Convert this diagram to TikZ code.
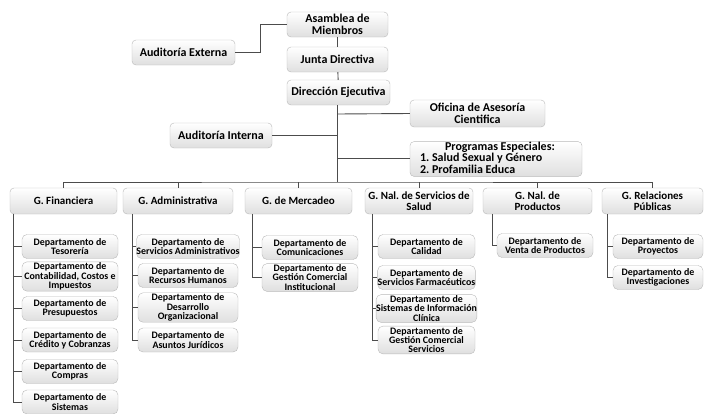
\documentclass[tikz,border=0pt]{standalone}
\usepackage{fontspec}
\setmainfont{Carlito}
\begin{document}
\frenchspacing
\begin{tikzpicture}[x=1pt,y=-1pt,
  box/.style={draw=gray!55, rounded corners=4pt, top color=white, bottom color=gray!25,
    align=center, inner sep=1pt, font=\fontsize{11}{11}\selectfont\bfseries},
  topbox/.style={box, font=\fontsize{12}{11.5}\selectfont\bfseries},
  dept/.style={box, rounded corners=5pt, inner xsep=0pt, font=\fontsize{9.9}{9.4}\selectfont\bfseries},
  conn/.style={draw=black!70, line width=0.9pt}]
\useasboundingbox (0,0) rectangle (704,413);
% top level
\node[topbox, minimum width=101pt, minimum height=25pt] (asam) at (337.5,24.5) {Asamblea de\\Miembros};
\node[topbox, minimum width=101pt, minimum height=25pt] (junta) at (337.5,59.5) {Junta Directiva};
\node[topbox, minimum width=103pt, minimum height=25pt] (dir) at (338.5,92.5) {Dirección Ejecutiva};
\node[topbox, minimum width=103pt, minimum height=25pt] (audext) at (183.5,52.5) {Auditoría Externa};
\node[topbox, minimum width=102pt, minimum height=25pt] (audint) at (221,135.5) {Auditoría Interna};
\node[topbox, minimum width=135pt, minimum height=27pt] (ofic) at (477.5,113.5) {Oficina de Asesoría\\Cientifica};
\node[topbox, minimum height=34pt, inner xsep=10pt, inner ysep=0pt] (prog) at (496,159)
  {\makebox[152pt][l]{\def\arraystretch{0.92}\begin{tabular}{@{}l@{}}\hspace*{25pt}Programas Especiales:\\1. Salud Sexual y Género\\2. Profamilia Educa\end{tabular}}};
\coordinate (bus) at (337,182);
\coordinate (tofic) at (337,114);
\coordinate (taud) at (337,135.5);
\coordinate (tprog) at (337,158);
\draw[conn] (audext.east) -- ++(25,0) |- (asam.west);
\draw[conn] (asam) -- (junta);
\draw[conn] (junta) -- (dir);
\draw[conn] (dir.south -| bus) -- (bus);
\draw[conn] (tofic) -- (ofic.west);
\draw[conn] (audint.east) -- (taud);
\draw[conn] (tprog) -- (tprog -| prog.west);
% managements
\node[box, minimum width=107pt, minimum height=26pt] (gfin) at (63.5,201) {G. Financiera};
\node[box, minimum width=110pt, minimum height=26pt] (gadm) at (178,201) {G. Administrativa};
\node[box, minimum width=107pt, minimum height=26pt] (gmer) at (298.5,201) {G. de Mercadeo};
\node[box, minimum width=108pt, minimum height=26pt] (gsal) at (419,201) {G. Nal. de Servicios de\\Salud};
\node[box, minimum width=109pt, minimum height=26pt] (gpro) at (537.5,201) {G. Nal. de\\Productos};
\node[box, minimum width=101pt, minimum height=26pt] (grel) at (652.5,201) {G. Relaciones\\Públicas};
\draw[conn] (gfin.north) |- (bus) -| (grel.north);
\foreach \n in {gadm,gmer,gsal,gpro} \draw[conn] (\n.north) -- (\n.north |- bus);
% departments: Financiera
\begin{scope}[every node/.style={dept, minimum width=96pt, minimum height=24pt}]
\node (f1) at (70,246.5) {Departamento de\\Tesorería};
\node (f2) at (70,276.5) {Departamento de\\Contabilidad, Costos e\\Impuestos};
\node (f3) at (70,308.5) {Departamento de\\Presupuestos};
\node (f4) at (70,340) {Departamento de\\Crédito y Cobranzas};
\node (f5) at (70,371.5) {Departamento de\\Compras};
\node (f6) at (70,402) {Departamento de\\Sistemas};
\end{scope}
\coordinate (lf) at (13,0);
\draw[conn] (gfin.south -| lf) |- (f6.west);
\foreach \n in {f1,f2,f3,f4,f5} \draw[conn] (\n.west -| lf) -- (\n.west);
% Administrativa
\begin{scope}[every node/.style={dept, minimum width=100pt, minimum height=24pt}]
\node (a1) at (188,246.5) {Departamento de\\Servicios Administrativos};
\node (a2) at (188,275.5) {Departamento de\\Recursos Humanos};
\node (a3) at (188,307.5) {Departamento de\\Desarrollo\\Organizacional};
\node (a4) at (188,340) {Departamento de\\Asuntos Jurídicos};
\end{scope}
\coordinate (la) at (132,0);
\draw[conn] (gadm.south -| la) |- (a4.west);
\foreach \n in {a1,a2,a3} \draw[conn] (\n.west -| la) -- (\n.west);
% Mercadeo
\begin{scope}[every node/.style={dept, minimum width=96pt, minimum height=24pt}]
\node (m1) at (310,247.5) {Departamento de\\Comunicaciones};
\node (m2) at (310,277.5) {Departamento de\\Gestión Comercial\\Institucional};
\end{scope}
\coordinate (lm) at (252,0);
\draw[conn] (gmer.south -| lm) |- (m2.west);
\draw[conn] (m1.west -| lm) -- (m1.west);
% Salud
\begin{scope}[every node/.style={dept, minimum width=97pt, minimum height=24pt}]
\node (s1) at (426.5,246.5) {Departamento de\\Calidad};
\node (s2) at (426.5,277.5) {Departamento de\\Servicios Farmacéuticos};
\node (s3) at (426.5,308.5) {Departamento de\\Sistemas de Información\\Clínica};
\node (s4) at (426.5,340) {Departamento de\\Gestión Comercial\\Servicios};
\end{scope}
\coordinate (ls) at (372,0);
\draw[conn] (gsal.south -| ls) |- (s4.west);
\foreach \n in {s1,s2,s3} \draw[conn] (\n.west -| ls) -- (\n.west);
% Productos
\node[dept, minimum width=96pt, minimum height=24pt] (p1) at (545,245.5) {Departamento de\\Venta de Productos};
\coordinate (lp) at (492,0);
\draw[conn] (gpro.south -| lp) |- (p1.west);
% Relaciones
\begin{scope}[every node/.style={dept, minimum width=90pt, minimum height=24pt}]
\node (r1) at (658,246.5) {Departamento de\\Proyectos};
\node (r2) at (658,277.5) {Departamento de\\Investigaciones};
\end{scope}
\coordinate (lr) at (607,0);
\draw[conn] (grel.south -| lr) |- (r2.west);
\draw[conn] (r1.west -| lr) -- (r1.west);
\end{tikzpicture}
\end{document}
